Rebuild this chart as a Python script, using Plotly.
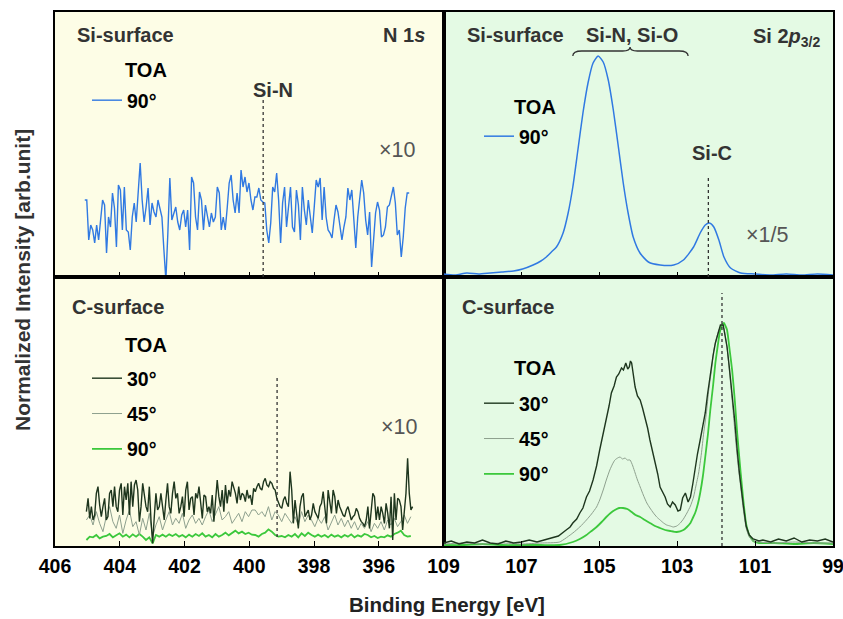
import numpy as np
import plotly.graph_objects as go

# ---------------- data ----------------
# N 1s, Si-surface, TOA 90 deg (x10), acquisition grid 405.08 -> 395.06 eV
N1S_SI_START, N1S_SI_STOP = 405.08, 395.06
N1S_SI_90 = [77,77,37,52,47,34,52,37,57,77,72,24,60,50,84,69,30,92,87,47,
             90,47,45,27,60,74,55,87,114,77,55,70,89,52,74,65,60,77,69,60,
             27,-3,44,99,57,64,70,55,47,62,67,50,67,27,100,94,60,47,85,77,
             47,72,60,50,64,55,60,90,84,47,60,47,69,94,102,77,64,84,64,107,
             90,100,85,94,77,67,80,
             80,89,77,75,74,47,34,54,90,85,104,77,34,74,90,50,69,90,50,45,
             87,72,37,90,67,52,77,60,44,70,97,90,99,57,90,60,47,44,39,57,
             72,65,52,37,50,60,89,77,87,60,29,60,77,97,84,57,42,65,10,40,
             64,75,67,40,42,50,70,72,82,90,74,42,47,20,40,69,84,84]

# N 1s, C-surface (x10)
N1S_C30_START, N1S_C30_STOP = 405.03, 394.955
N1S_C_30 = [103,143,83,118,78,93,158,178,123,88,118,143,78,88,158,168,118,178,118,103,
            168,188,93,178,138,188,93,193,118,183,198,168,73,118,188,143,118,103,178,78,
            8,88,158,108,118,158,108,78,138,188,118,98,158,193,143,158,98,118,148,88,
            168,193,108,143,148,93,158,143,178,118,83,153,148,103,118,98,153,73,143,198,
            148,118,168,103,183,128,168,148,193,178,158,128,178,138,158,153,133,168,143,153,
            123,
            173,163,178,188,173,168,193,203,183,178,193,188,173,168,143,128,118,113,138,148,
            128,118,223,168,68,138,98,53,118,148,158,88,98,108,78,93,128,103,93,83,
            118,128,163,118,68,168,133,98,168,148,98,138,118,103,93,88,108,118,98,78,
            88,93,113,103,83,73,68,58,78,118,53,118,158,148,78,118,78,118,98,68,
            128,98,53,148,18,158,78,143,138,118,48,103,158,263,158,108,118]
N1S_C45_START, N1S_C45_STOP = 405.03, 395.01
N1S_C_45 = [78,93,63,103,68,43,88,118,73,53,93,38,78,108,58,73,33,83,48,98,28,63,88,48,78,
            103,63,83,68,98,53,78,93,68,83,63,88,108,73,93,118,78,88,103,68,83,98,73,103,88,108,
            108,93,103,88,118,78,103,93,73,98,83,68,88,63,103,73,93,78,58,83,68,88,48,73,
            93,63,83,58,78,53,73,48,68,53,73,43,68,53,73,48,78,63,83,58,73,93,68,88]
N1S_C_90 = [18,28,26,33,23,28,30,36,26,32,38,28,34,26,35,28,36,28,18,26,8,33,28,34,28,
            35,30,36,28,33,26,34,28,36,30,38,28,33,26,36,28,33,40,32,38,46,38,43,36,40,34,
            33,28,36,40,50,43,33,28,30,26,33,28,36,26,38,30,40,33,28,34,28,33,26,34,
            28,32,26,33,28,35,26,32,28,36,33,26,30,24,28,26,32,28,36,40,46,33,28,30]

# Si 2p3/2, Si-surface, TOA 90 deg (x1/5)
SI2P_SI_E = [109.0,108.7,108.4,108.1,107.8,107.5,107.2,106.97,106.7,106.5,
             106.36,106.23,106.10,105.93,105.80,105.68,105.55,105.42,105.29,105.16,
             105.03,104.90,104.77,104.64,104.51,104.385,104.26,104.13,103.955,103.74,
             103.44,103.09,102.84,102.58,102.41,102.28,102.17,102.06,101.93,101.80,
             101.63,101.37,101.0,100.6,100.2,99.8,99.4,99.0]
SI2P_SI_90 = [3,2,4,3,4,5,6,8,12,16,20,25,30,44,64,90,127,164,194,214,
              221,215,197,167,130,94,64,40,24,15,12,12,17,30,44,52,54,50,37,20,
              9,4,3,2,3,2,3,2]

# Si 2p3/2, C-surface
SI2P_C30_E = [109.0,108.8,108.6,108.4,108.2,108.0,107.8,107.6,107.4,107.2,107.0,106.8,106.6,
              106.40,106.19,106.05,105.85,105.75,105.68,105.58,105.50,105.42,105.33,
              105.25,105.16,105.07,104.99,104.90,104.82,104.75,104.69,104.62,104.56,
              104.50,104.43,104.38,104.32,104.27,104.23,104.20,104.17,104.12,104.08,
              104.02,103.95,103.89,103.83,103.76,103.70,103.63,103.57,103.50,103.44,
              103.37,103.31,103.25,103.18,103.12,103.05,102.98,102.92,102.86,102.79,
              102.72,102.66,102.60,102.54,102.48,102.41,102.35,102.28,102.22,102.15,
              102.08,102.02,101.95,101.89,101.82,101.77,101.72,101.66,101.59,101.52,
              101.46,101.40,
              101.30,101.23,101.15,101.05,100.9,100.8,100.6,100.4,100.2,100.0,99.8,99.6,99.4,99.2,99.0]
SI2P_C_30 = [3,5,2,4,3,6,3,2,5,3,4,6,4,
             6,8,10,16,19,23,27,33,38,49,55,66,80,96,112,129,140,153,160,169,
             172,178,176,183,177,179,185,183,170,159,150,146,138,129,118,106,95,86,72,59,
             54,49,42,39,44,41,35,36,48,53,44,49,62,79,92,106,118,133,152,173,
             190,203,214,221,221,210,199,178,153,124,96,72,
             40,20,11,7,5,6,4,7,5,8,4,6,5,7,4]
SI2P_C45_E = [109.0,108.5,108.0,107.5,107.0,106.5,106.02,
              105.68,105.50,105.33,105.20,105.07,104.99,104.90,104.82,104.73,104.66,
              104.60,104.53,104.47,104.40,104.34,104.28,104.21,104.14,104.08,104.02,
              103.95,103.87,103.78,103.70,103.61,103.525,103.44,103.35,103.27,103.18,
              103.10,103.01,102.92,102.84,102.75,102.66,102.58,102.52,102.45,102.38,
              102.32,102.25,102.19,102.12,102.06,101.99,101.93,101.85,101.79,101.72,
              101.63,101.56,101.50,101.44,101.37,101.30,101.23,101.15,101.05,100.9,
              100.5,100.0,99.5,99.0]
SI2P_C_45 = [2,3,2,3,2,3,4,
             13,19,26,32,39,46,56,66,76,82,
             86,88,89,87,88,86,86,80,73,66,
             59,51,43,38,33,29,26,23,21,20,
             19,20,23,27,33,40,49,60,73,92,
             113,133,156,176,196,208,216,222,216,198,
             163,133,106,82,59,36,18,9,5,4,
             3,4,3,3]
SI2P_C90_E = [109.0,108.5,108.0,107.5,107.0,106.5,106.02,
              105.68,105.50,105.33,105.20,105.07,104.94,104.82,104.71,104.60,104.49,
              104.39,104.28,104.17,104.07,103.95,103.83,103.70,103.57,103.44,103.31,
              103.18,103.01,102.84,102.75,102.66,102.60,102.54,102.47,102.41,102.34,
              102.28,102.21,102.15,102.08,102.02,101.96,101.91,101.86,101.80,101.76,
              101.72,101.65,101.59,101.52,101.46,101.37,101.30,101.23,101.15,101.05,
              100.9,100.5,100.0,99.5,99.0]
SI2P_C_90 = [1,1,2,1,1,1,1,
             4,7,11,15,19,24,29,33,36,38,
             38,37,34,31,29,26,23,20,18,16,
             15,14,16,19,23,28,33,42,53,70,
             89,112,136,160,183,200,213,220,223,220,
             216,195,176,145,113,73,45,22,11,5,
             3,3,2,3,2]

# reference peak positions (eV)
SI_N_TOP_E, SI_N_BOT_E = 399.57, 399.14
SI_C_TOP_E, SI_C_BOT_E = 102.20, 101.85

LEFT_TICKS = [406, 404, 402, 400, 398, 396]
RIGHT_TICKS = [109, 107, 105, 103, 101, 99]

# ---------------- styling ----------------
W, H = 843, 619
ML, MR, MT, MB = 55, 10, 12, 73
PW, PH = W - ML - MR, H - MT - MB
FONT = "Liberation Sans, Arial, Helvetica, sans-serif"
BLUE, DARK, GRAY, GREEN = "#3079e2", "#1e361e", "#8ea08e", "#3cc83c"
BG_L, BG_R = "#fdfde6", "#e4fae4"


def px(x):
    return (x - ML) / PW


def py(y):
    return (H - MB - y) / PH


XS = px(443.5)
YS = py(277)


def grid(a, b, n):
    return np.linspace(a, b, n)


fig = go.Figure()

fig.add_trace(go.Scatter(x=grid(N1S_SI_START, N1S_SI_STOP, len(N1S_SI_90)), y=N1S_SI_90,
                         xaxis="x", yaxis="y", mode="lines", name="90°", showlegend=True,
                         line=dict(color=BLUE, width=1.4), legend="legend"))
fig.add_trace(go.Scatter(x=SI2P_SI_E, y=SI2P_SI_90, xaxis="x2", yaxis="y2", mode="lines",
                         name="90°", showlegend=True,
                         line=dict(color=BLUE, width=1.5, shape="spline", smoothing=0.6),
                         legend="legend2"))

fig.add_trace(go.Scatter(x=grid(N1S_C45_START, N1S_C45_STOP, len(N1S_C_90)), y=N1S_C_90,
                         xaxis="x3", yaxis="y3", mode="lines", name="90°", legendrank=3,
                         legendgroup="c90", line=dict(color=GREEN, width=1.8), legend="legend3"))
fig.add_trace(go.Scatter(x=grid(N1S_C45_START, N1S_C45_STOP, len(N1S_C_45)), y=N1S_C_45,
                         xaxis="x3", yaxis="y3", mode="lines", name="45°", legendrank=2,
                         legendgroup="c45", line=dict(color=GRAY, width=1.0), legend="legend3"))
fig.add_trace(go.Scatter(x=grid(N1S_C30_START, N1S_C30_STOP, len(N1S_C_30)), y=N1S_C_30,
                         xaxis="x3", yaxis="y3", mode="lines", name="30°", legendrank=1,
                         legendgroup="c30", line=dict(color=DARK, width=1.4), legend="legend3"))

fig.add_trace(go.Scatter(x=SI2P_C90_E, y=SI2P_C_90, xaxis="x4", yaxis="y4", mode="lines",
                         name="90°", legendrank=3, legendgroup="d90",
                         line=dict(color=GREEN, width=1.8, shape="spline", smoothing=0.5),
                         legend="legend4"))
fig.add_trace(go.Scatter(x=SI2P_C45_E, y=SI2P_C_45, xaxis="x4", yaxis="y4", mode="lines",
                         name="45°", legendrank=2, legendgroup="d45",
                         line=dict(color=GRAY, width=1.0, shape="spline", smoothing=0.5),
                         legend="legend4"))
fig.add_trace(go.Scatter(x=SI2P_C30_E, y=SI2P_C_30, xaxis="x4", yaxis="y4", mode="lines",
                         name="30°", legendrank=1, legendgroup="d30",
                         line=dict(color=DARK, width=1.4), legend="legend4"))

axis_line = dict(showline=True, linecolor="black", linewidth=1.6, mirror=True,
                 showgrid=False, zeroline=False, automargin=False)
xcommon = dict(axis_line, ticks="inside", ticklen=5, tickwidth=1.3, tickcolor="black",
               tickfont=dict(family=FONT, size=19.5, color="black", weight="bold"),
               ticklabelstandoff=2, ticklabeloverflow="allow")
ycommon = dict(axis_line, ticks="", showticklabels=False)

fig.update_layout(
    width=W, height=H, autosize=False, margin=dict(l=ML, r=MR, t=MT, b=MB, autoexpand=False),
    paper_bgcolor="white", plot_bgcolor="white", hovermode=False, showlegend=True,
    xaxis=dict(xcommon, domain=[0, XS], range=[406, 394], tickvals=LEFT_TICKS,
               showticklabels=False, anchor="y"),
    xaxis2=dict(xcommon, domain=[XS, 1], range=[109, 99], tickvals=RIGHT_TICKS,
                showticklabels=False, anchor="y2"),
    xaxis3=dict(xcommon, domain=[0, XS], range=[406, 394], tickvals=LEFT_TICKS, anchor="y3"),
    xaxis4=dict(xcommon, domain=[XS, 1], range=[109, 99], tickvals=RIGHT_TICKS, anchor="y4"),
    yaxis=dict(ycommon, domain=[YS, 1], range=[0, 265], anchor="x"),
    yaxis2=dict(ycommon, domain=[YS, 1], range=[0, 265], anchor="x2"),
    yaxis3=dict(ycommon, domain=[0, YS], range=[0, 807], anchor="x3"),
    yaxis4=dict(ycommon, domain=[0, YS], range=[0, 269], anchor="x4"),
)

leg = dict(font=dict(family=FONT, size=19.5, color="black", weight="bold"),
           bgcolor="rgba(0,0,0,0)", xanchor="left", yanchor="top", itemwidth=30,
           tracegroupgap=7)
fig.update_layout(
    legend=dict(leg, x=px(87), y=py(81)),
    legend2=dict(leg, x=px(479), y=py(117)),
    legend3=dict(leg, x=px(87), y=py(359)),
    legend4=dict(leg, x=px(479), y=py(384)),
)

# panel backgrounds
for xa, ya, col in [("x", "y", BG_L), ("x2", "y2", BG_R), ("x3", "y3", BG_L), ("x4", "y4", BG_R)]:
    fig.add_shape(type="rect", xref=f"{xa} domain", yref=f"{ya} domain", x0=0, x1=1, y0=0, y1=1,
                  fillcolor=col, line=dict(width=0), layer="below")

# dotted peak markers
dot = dict(color="#333333", width=1.3, dash="dot")
fig.add_shape(type="line", xref="x", yref="y", x0=SI_N_TOP_E, x1=SI_N_TOP_E, y0=0, y1=177, line=dot)
fig.add_shape(type="line", xref="x3", yref="y3", x0=SI_N_BOT_E, x1=SI_N_BOT_E, y0=27, y1=507, line=dot)
fig.add_shape(type="line", xref="x2", yref="y2", x0=SI_C_TOP_E, x1=SI_C_TOP_E, y0=0, y1=100, line=dot)
fig.add_shape(type="line", xref="x4", yref="y4", x0=SI_C_BOT_E, x1=SI_C_BOT_E, y0=0, y1=253, line=dot)

# curly brace under "Si-N, Si-O"
fig.add_shape(type="path", xref="x2", yref="y2",
              path="M 105.68,221 Q 105.68,226 105.45,226 L 104.40,226 Q 104.21,226 104.21,230 "
                   "Q 104.21,226 104.02,226 L 102.95,226 Q 102.72,226 102.72,221",
              line=dict(color="#333333", width=1.3))


def note(text, x, y, xanchor="left", size=20, color="#333333", bold=True, **kw):
    fig.add_annotation(text=f"<b>{text}</b>" if bold else text, xref="paper", yref="paper",
                       x=px(x), y=py(y), xanchor=xanchor, yanchor="middle", showarrow=False,
                       font=dict(family=FONT, size=size, color=color), **kw)


note("Si-surface", 75, 35)
note("N 1<i>s</i>", 427, 35, xanchor="right")
note("TOA", 123, 70, color="black")
note("Si-N", 273, 90, xanchor="center")
note("×10", 377, 150, bold=False, color="#555555", size=21.5)

note("Si-surface", 465, 35)
note("Si-N, Si-O", 632, 35, xanchor="center")
note("Si 2<i>p</i><sub>3/2</sub>", 822, 37, xanchor="right")
note("TOA", 512, 107, color="black")
note("Si-C", 712, 153, xanchor="center")
note("×1/5", 744, 235, bold=False, color="#555555", size=21.5)

note("C-surface", 70, 307)
note("TOA", 123, 345, color="black")
note("×10", 379, 427, bold=False, color="#555555", size=21.5)

note("C-surface", 460, 307)
note("TOA", 512, 368, color="black")

note("Binding Energy [eV]", 447, 604, xanchor="center", color="#222222", size=20.5)
note("Normalized Intensity [arb.unit]", 22, 280, xanchor="center", color="#333333", size=21,
     textangle=-90)

fig.write_html("out.html", config={"displayModeBar": False, "responsive": False},
               post_script="document.body.style.margin='0';document.body.style.overflow='hidden';")
